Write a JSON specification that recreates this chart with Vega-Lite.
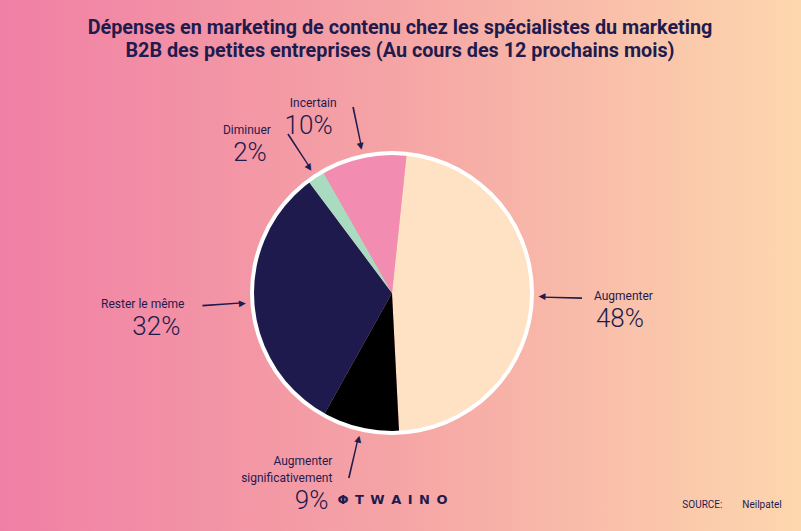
{
  "$schema": "https://vega.github.io/schema/vega-lite/v6.json",
  "width": 818,
  "height": 586,
  "autosize": {"type": "none"},
  "padding": {"left": -17, "top": 0, "right": 0, "bottom": -55},
  "background": "#FDD6AE",
  "config": {
    "view": {
      "stroke": null,
      "fill": {
        "gradient": "linear",
        "x1": 0, "x2": 1, "y1": 0, "y2": 0,
        "stops": [
          {"offset": 0, "color": "#F07EA6"},
          {"offset": 0.5, "color": "#F5A4A5"},
          {"offset": 1, "color": "#FDD7AE"}
        ]
      }
    }
  },
  "title": {
    "text": [
      "Dépenses en marketing de contenu chez les spécialistes du marketing",
      "B2B des petites entreprises (Au cours des 12 prochains mois)"
    ],
    "font": "Roboto",
    "fontSize": 19.8,
    "fontWeight": "bold",
    "color": "#1F1B4D",
    "anchor": "middle",
    "lineHeight": 23,
    "offset": -61,
    "dx": 8
  },
  "data": {
    "values": [
      {"categorie": "Augmenter", "valeur": 48},
      {"categorie": "Augmenter\nsignificativement", "valeur": 9},
      {"categorie": "Rester le même", "valeur": 32},
      {"categorie": "Diminuer", "valeur": 2},
      {"categorie": "Incertain", "valeur": 10}
    ]
  },
  "transform": [
    {"window": [{"op": "row_number", "as": "rang"}]},
    {"joinaggregate": [{"op": "sum", "field": "valeur", "as": "total"}]},
    {"window": [{"op": "sum", "field": "valeur", "as": "cumul"}], "sort": [{"field": "rang"}], "frame": [null, 0]},
    {"calculate": "(datum.cumul - datum.valeur / 2) / datum.total", "as": "frac"},
    {"calculate": "datum.frac - 0.0007", "as": "f1"},
    {"calculate": "datum.frac + 0.0007", "as": "f2"},
    {"calculate": "6 + 360 * datum.frac + 90", "as": "rot"},
    {"calculate": "datum.valeur + '%'", "as": "pct"},
    {"calculate": "length(split(datum.categorie, '\\n')) - 1", "as": "lignes_sup"},
    {"calculate": "6 + 360 * datum.frac > 180 ? 'g' : 'd'", "as": "cote"}
  ],
  "resolve": {"scale": {"theta": "independent"}},
  "layer": [
    {
      "mark": {"type": "arc", "outerRadius": 139},
      "encoding": {
        "theta": {"field": "valeur", "type": "quantitative", "stack": true, "scale": {"range": [0.1047, 6.3879]}},
        "order": {"field": "rang", "type": "quantitative"},
        "color": {
          "field": "categorie",
          "type": "nominal",
          "legend": null,
          "scale": {
            "domain": ["Augmenter", "Augmenter\nsignificativement", "Rester le même", "Diminuer", "Incertain"],
            "range": ["#FFE2C4", "#000000", "#1E1A4D", "#A8DBC0", "#F28CB0"]
          }
        }
      }
    },
    {
      "transform": [{"aggregate": [{"op": "sum", "field": "valeur", "as": "somme"}]}],
      "mark": {"type": "arc", "innerRadius": 138, "outerRadius": 142, "color": "#FFFFFF"},
      "encoding": {
        "theta": {"field": "somme", "type": "quantitative"}
      }
    },
    {
      "mark": {"type": "arc", "innerRadius": 150, "outerRadius": 190, "color": "#1F1B4D"},
      "encoding": {
        "theta": {"field": "f1", "type": "quantitative", "scale": {"domain": [0, 1], "range": [0.1047, 6.3879]}},
        "theta2": {"field": "f2"}
      }
    },
    {
      "mark": {"type": "text", "radius": 150, "text": "▶", "fontSize": 9, "font": "DejaVu Sans", "color": "#1F1B4D", "align": "center", "baseline": "middle"},
      "encoding": {
        "theta": {"field": "frac", "type": "quantitative", "scale": {"domain": [0, 1], "range": [0.1047, 6.3879]}},
        "angle": {"field": "rot", "type": "quantitative", "scale": null}
      }
    },
    {
      "transform": [{"filter": "datum.cote == 'd'"}],
      "mark": {"type": "text", "radius": 192, "align": "left", "baseline": "bottom", "dx": 10, "dy": {"expr": "5 - 17 * datum.lignes_sup"}, "fontSize": 12, "font": "Roboto", "color": "#1F1B4D", "lineBreak": "\n", "lineHeight": 17},
      "encoding": {
        "theta": {"field": "frac", "type": "quantitative", "scale": {"domain": [0, 1], "range": [0.1047, 6.3879]}},
        "text": {"field": "categorie", "type": "nominal"}
      }
    },
    {
      "transform": [{"filter": "datum.cote == 'g'"}],
      "mark": {"type": "text", "radius": 192, "align": "right", "baseline": "bottom", "dx": -16, "dy": {"expr": "5 - 17 * datum.lignes_sup"}, "fontSize": 12, "font": "Roboto", "color": "#1F1B4D", "lineBreak": "\n", "lineHeight": 17},
      "encoding": {
        "theta": {"field": "frac", "type": "quantitative", "scale": {"domain": [0, 1], "range": [0.1047, 6.3879]}},
        "text": {"field": "categorie", "type": "nominal"}
      }
    },
    {
      "transform": [{"filter": "datum.cote == 'd'"}],
      "mark": {"type": "text", "radius": 192, "align": "left", "baseline": "top", "dx": 12, "dy": 8, "fontSize": 26, "font": "Roboto", "fontWeight": 300, "color": "#1F1B4D"},
      "encoding": {
        "theta": {"field": "frac", "type": "quantitative", "scale": {"domain": [0, 1], "range": [0.1047, 6.3879]}},
        "text": {"field": "pct", "type": "nominal"}
      }
    },
    {
      "transform": [{"filter": "datum.cote == 'g'"}],
      "mark": {"type": "text", "radius": 192, "align": "right", "baseline": "top", "dx": -20, "dy": 8, "fontSize": 26, "font": "Roboto", "fontWeight": 300, "color": "#1F1B4D"},
      "encoding": {
        "theta": {"field": "frac", "type": "quantitative", "scale": {"domain": [0, 1], "range": [0.1047, 6.3879]}},
        "text": {"field": "pct", "type": "nominal"}
      }
    },
    {
      "mark": {"type": "point", "opacity": 0},
      "encoding": {
        "x": {
          "datum": "Φ\u2002T\u2002W\u2002A\u2002I\u2002N\u2002O",
          "type": "nominal",
          "axis": {
            "orient": "bottom",
            "offset": -93,
            "domain": false,
            "ticks": false,
            "grid": false,
            "labelAngle": 0,
            "labelPadding": 0,
            "labelFont": "DejaVu Sans",
            "labelFontSize": 13,
            "labelFontWeight": "bold",
            "labelColor": "#1F1B4D",
            "title": "SOURCE:\u00a0\u00a0\u00a0\u00a0\u00a0\u00a0\u00a0\u00a0Neilpatel\u00a0\u00a0\u00a0\u00a0\u00a0\u00a0\u00a0\u00a0\u200b",
            "titleAnchor": "end",
            "titleFont": "Roboto",
            "titleFontSize": 10,
            "titleFontWeight": "normal",
            "titleColor": "#1F1B4D",
            "titlePadding": -7
          }
        }
      }
    }
  ]
}
